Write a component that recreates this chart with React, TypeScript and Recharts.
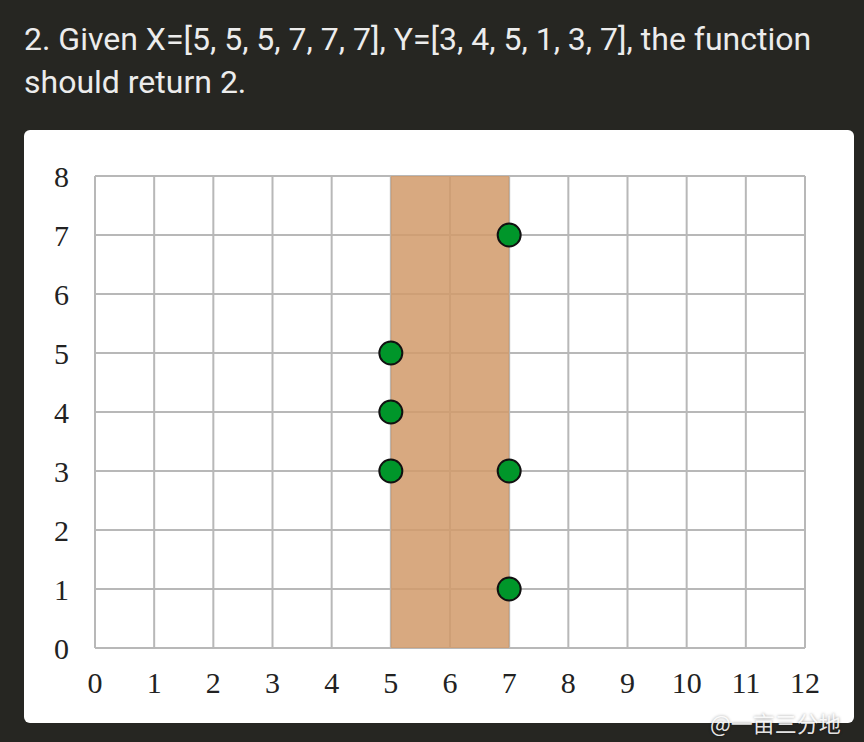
import { ScatterChart, Scatter, XAxis, YAxis, CartesianGrid, ReferenceArea } from 'recharts';

const xValues = [5, 5, 5, 7, 7, 7];
const yValues = [3, 4, 5, 1, 3, 7];
const xTicks = [0, 1, 2, 3, 4, 5, 6, 7, 8, 9, 10, 11, 12];
const yTicks = [0, 1, 2, 3, 4, 5, 6, 7, 8];
const bandStart = 5;
const bandEnd = 7;

const points = xValues.map((x, i) => ({ x, y: yValues[i] }));

const tickFont = { fontFamily: '"Liberation Serif", serif', fontSize: 30, fill: '#222' };

const Dot = (props: any) => {
  const { cx, cy } = props;
  return <circle cx={cx} cy={cy} r={11.5} fill="#00962a" stroke="#111" strokeWidth={2} />;
};

export default function App() {
  return (
    <div style={{ position: 'fixed', left: 0, top: 0, width: 864, height: 742, background: '#262622', overflow: 'hidden' }}>
      <div
        style={{
          position: 'absolute',
          left: 24,
          top: 18,
          width: 830,
          fontFamily: 'Roboto, sans-serif',
          fontSize: 32,
          lineHeight: '43px',
          color: '#ececec',
          whiteSpace: 'nowrap',
        }}
      >
        2. Given X=[5, 5, 5, 7, 7, 7], Y=[3, 4, 5, 1, 3, 7], the function
        <br />
        should return 2.
      </div>
      <div style={{ position: 'absolute', left: 24, top: 130, width: 830, height: 593, background: '#fff', borderRadius: 6 }}>
        <ScatterChart width={830} height={593} margin={{ top: 46, right: 49, left: 0, bottom: 0 }}>
          <CartesianGrid stroke="#b8b8b8" strokeWidth={2} horizontalValues={yTicks} verticalValues={xTicks} />
          <ReferenceArea x1={bandStart} x2={bandEnd} y1={0} y2={8} fill="#d19a6a" fillOpacity={0.85} stroke="none" />
          <XAxis
            type="number"
            dataKey="x"
            domain={[0, 12]}
            ticks={xTicks}
            interval={0}
            axisLine={false}
            tickLine={false}
            tick={tickFont}
            tickMargin={18}
            height={75}
          />
          <YAxis
            type="number"
            dataKey="y"
            domain={[0, 8]}
            ticks={yTicks}
            interval={0}
            axisLine={false}
            tickLine={false}
            tick={tickFont}
            tickMargin={20}
            width={71}
          />
          <Scatter data={points} shape={<Dot />} isAnimationActive={false} />
        </ScatterChart>
      </div>
      <div
        style={{
          position: 'absolute',
          left: 710,
          top: 706,
          fontFamily: '"Noto Sans CJK SC", sans-serif',
          fontSize: 22,
          color: 'rgba(255,255,255,0.9)',
          textShadow: '0 0 3px rgba(0,0,0,0.4)',
        }}
      >
        @一亩三分地
      </div>
    </div>
  );
}
